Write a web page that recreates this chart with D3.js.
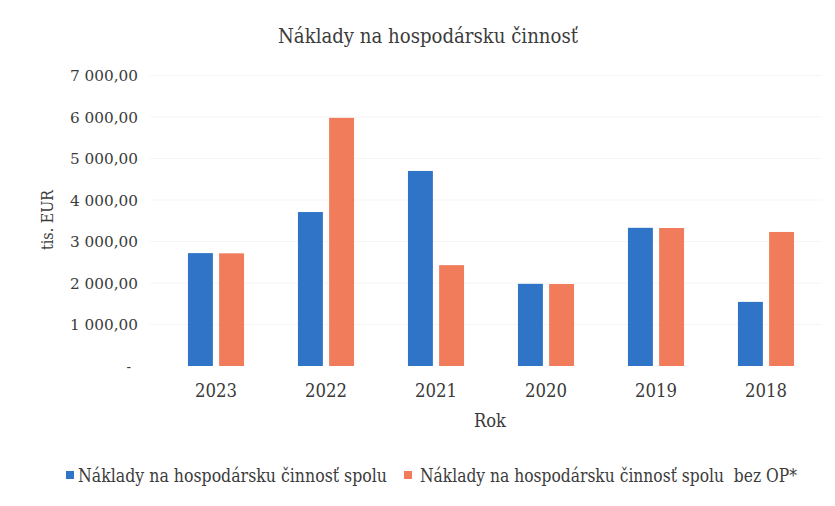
<!DOCTYPE html>
<html><head><meta charset="utf-8">
<script src="https://cdn.jsdelivr.net/npm/d3@7"></script>
<style>
html,body{margin:0;padding:0;background:#fff;}
svg text{font-family:"DejaVu Serif","Liberation Serif",serif;font-stretch:condensed;fill:#3b3b3b;}
</style></head>
<body>
<svg id="chart" width="835" height="506"></svg>
<script>
const years = ["2023","2022","2021","2020","2019","2018"];
const totalCosts = [2720, 3710, 4700, 1980, 3330, 1545];
const costsWithoutOP = [2715, 5980, 2430, 1975, 3325, 3230];
const yTicks = [0, 1000, 2000, 3000, 4000, 5000, 6000, 7000];
const seriesNames = ["Náklady na hospodársku činnosť spolu", "Náklady na hospodársku činnosť spolu  bez OP*"];
const colors = ["#2f74c6", "#f07c5c"];
const titleText = "Náklady na hospodársku činnosť";
const yTitle = "tis. EUR";
const xTitle = "Rok";

const FONT = "DejaVu Serif, Liberation Serif, serif";
const svg = d3.select("#chart");
const x0 = d3.scaleBand().domain(years).range([161, 821]).paddingInner(0.49).paddingOuter(0.245);
const x1 = d3.scaleBand().domain([0,1]).range([0, x0.bandwidth()]).paddingInner(0.2);
const y = d3.scaleLinear().domain([0, 7000]).range([366, 75.5]);

// faint gridlines
svg.append("g").selectAll("line").data(yTicks.slice(1)).join("line")
  .attr("x1", 150).attr("x2", 822)
  .attr("y1", d => y(d)).attr("y2", d => y(d))
  .attr("stroke", "#f5f5f5").attr("stroke-width", 1);

// bars
const series = [totalCosts, costsWithoutOP];
series.forEach((vals, si) => {
  svg.append("g").selectAll("rect").data(years).join("rect")
    .attr("x", d => x0(d) + x1(si))
    .attr("width", x1.bandwidth())
    .attr("y", (d, i) => y(vals[i]))
    .attr("height", (d, i) => y(0) - y(vals[i]))
    .attr("fill", colors[si]);
});

// y axis
const fmt = v => v === 0 ? "-" : d3.format(",.2f")(v).replace(/,/g, " ").replace(".", ",");
const yAxis = svg.append("g").attr("transform", "translate(138,0)")
  .call(d3.axisLeft(y).tickValues(yTicks).tickFormat(fmt).tickSize(0).tickPadding(0));
yAxis.select(".domain").remove();
yAxis.selectAll("text")
  .style("font-family", FONT).style("font-stretch", "condensed")
  .style("font-size", "15px").style("fill", "#3b3b3b")
  .attr("dy", "0.35em")
  .attr("x", d => d === 0 ? -7 : 0)
  .attr("textLength", d => d === 0 ? null : 68)
  .attr("lengthAdjust", "spacingAndGlyphs");

// x axis
const xAxis = svg.append("g").attr("transform", "translate(0,397)")
  .call(d3.axisBottom(x0).tickSize(0).tickPadding(0));
xAxis.select(".domain").remove();
xAxis.selectAll("text")
  .style("font-family", FONT).style("font-stretch", "condensed")
  .style("font-size", "18px").style("fill", "#3b3b3b")
  .attr("dy", 0).attr("y", 0)
  .attr("textLength", 42).attr("lengthAdjust", "spacingAndGlyphs");

// title
svg.append("text").attr("x", 428).attr("y", 43).attr("text-anchor", "middle")
  .style("font-size", "20px").attr("textLength", 300).attr("lengthAdjust", "spacingAndGlyphs")
  .text(titleText);

// axis titles
svg.append("text").attr("transform", "translate(53,220) rotate(-90)").attr("text-anchor", "middle")
  .style("font-size", "17px").attr("textLength", 60).attr("lengthAdjust", "spacingAndGlyphs")
  .text(yTitle);
svg.append("text").attr("x", 490).attr("y", 427).attr("text-anchor", "middle")
  .style("font-size", "18px").attr("textLength", 32).attr("lengthAdjust", "spacingAndGlyphs")
  .text(xTitle);

// legend
const legendItems = [
  {sx: 66, tx: 78, w: 309},
  {sx: 404, tx: 420, w: 377}
];
legendItems.forEach((it, i) => {
  svg.append("rect").attr("x", it.sx).attr("y", 471).attr("width", 8).attr("height", 8).attr("fill", colors[i]);
  svg.append("text").attr("x", it.tx).attr("y", 482)
    .style("font-size", "18px").attr("textLength", it.w).attr("lengthAdjust", "spacingAndGlyphs")
    .attr("xml:space", "preserve")
    .text(seriesNames[i]);
});
</script>
</body></html>
